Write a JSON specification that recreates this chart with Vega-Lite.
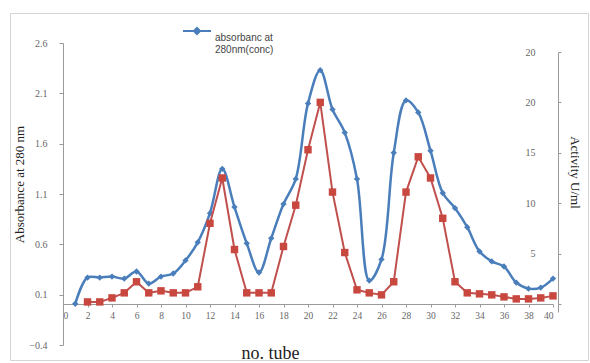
{
  "$schema": "https://vega.github.io/schema/vega-lite/v6.json",
  "width": 578,
  "height": 347,
  "autosize": {"type": "none"},
  "padding": {"left": 10, "top": 13, "right": 2, "bottom": 3},
  "background": "white",
  "config": {
    "view": {"stroke": "#d4d4d4", "strokeWidth": 1},
    "axis": {"grid": false, "domainColor": "#9a9a9a", "tickColor": "#9a9a9a", "labelFont": "Liberation Serif", "labelFontSize": 10, "labelColor": "#666666", "titleFont": "Liberation Serif", "titleFontWeight": "normal", "titleColor": "#222222"},
    "axisX": {"labelOverlap": false}
  },
  "data": {"values": [
    {"tube": 1, "abs": 0.01, "act": null},
    {"tube": 2, "abs": 0.27, "act": 0.2},
    {"tube": 3, "abs": 0.27, "act": 0.2},
    {"tube": 4, "abs": 0.28, "act": 0.6},
    {"tube": 5, "abs": 0.26, "act": 1.1},
    {"tube": 6, "abs": 0.33, "act": 2.2},
    {"tube": 7, "abs": 0.21, "act": 1.1},
    {"tube": 8, "abs": 0.28, "act": 1.3},
    {"tube": 9, "abs": 0.31, "act": 1.1},
    {"tube": 10, "abs": 0.44, "act": 1.1},
    {"tube": 11, "abs": 0.62, "act": 1.7},
    {"tube": 12, "abs": 0.91, "act": 8.0},
    {"tube": 13, "abs": 1.35, "act": 12.5},
    {"tube": 14, "abs": 0.97, "act": 5.4},
    {"tube": 15, "abs": 0.61, "act": 1.1},
    {"tube": 16, "abs": 0.32, "act": 1.1},
    {"tube": 17, "abs": 0.66, "act": 1.1},
    {"tube": 18, "abs": 1.0, "act": 5.7},
    {"tube": 19, "abs": 1.25, "act": 9.8},
    {"tube": 20, "abs": 2.0, "act": 15.3},
    {"tube": 21, "abs": 2.33, "act": 20.0},
    {"tube": 22, "abs": 1.94, "act": 11.1},
    {"tube": 23, "abs": 1.71, "act": 5.1},
    {"tube": 24, "abs": 1.25, "act": 1.4},
    {"tube": 25, "abs": 0.24, "act": 1.1},
    {"tube": 26, "abs": 0.45, "act": 0.9},
    {"tube": 27, "abs": 1.51, "act": 2.2},
    {"tube": 28, "abs": 2.03, "act": 11.1},
    {"tube": 29, "abs": 1.91, "act": 14.6},
    {"tube": 30, "abs": 1.53, "act": 12.5},
    {"tube": 31, "abs": 1.11, "act": 8.5},
    {"tube": 32, "abs": 0.96, "act": 2.2},
    {"tube": 33, "abs": 0.77, "act": 1.1},
    {"tube": 34, "abs": 0.53, "act": 1.0},
    {"tube": 35, "abs": 0.43, "act": 0.9},
    {"tube": 36, "abs": 0.38, "act": 0.7},
    {"tube": 37, "abs": 0.22, "act": 0.5},
    {"tube": 38, "abs": 0.16, "act": 0.5},
    {"tube": 39, "abs": 0.17, "act": 0.6},
    {"tube": 40, "abs": 0.26, "act": 0.8}
  ]},
  "encoding": {
    "x": {"field": "tube", "type": "quantitative", "scale": {"domain": [0, 40], "range": [53, 543], "nice": false, "zero": false},
      "axis": {"orient": "bottom", "offset": -56, "values": [0,2,4,6,8,10,12,14,16,18,20,22,24,26,28,30,32,34,36,38,40], "labelOverlap": false, "labelFontSize": 9.5, "tickSize": 3, "labelPadding": 3, "title": "no. tube", "titleFontSize": 18, "titleX": 260, "titleY": 49, "titleAlign": "center", "titleBaseline": "middle"}}
  },
  "layer": [
    {
      "mark": {"type": "line", "interpolate": "catmull-rom", "strokeWidth": 2.5, "point": {"shape": "diamond", "size": 40, "filled": true}},
      "encoding": {
        "y": {"field": "abs", "type": "quantitative", "scale": {"domain": [-0.4, 2.6], "range": [332, 30], "nice": false, "zero": false},
          "axis": {"orient": "left", "offset": -53, "values": [-0.4, 0.1, 0.6, 1.1, 1.6, 2.1, 2.6], "format": ".1f", "tickSize": 4, "labelPadding": 12, "title": "Absorbance at 280 nm", "titleFontSize": 13, "titleAngle": -90, "titleX": -44, "titleY": 171, "titleAlign": "center", "titleBaseline": "middle"}},
        "color": {"datum": "absorbanc at 280nm(conc)", "type": "nominal",
          "scale": {"domain": ["absorbanc at 280nm(conc)"], "range": ["#4a7ebb"]},
          "legend": {"orient": "none", "legendX": 172, "legendY": 10, "title": null, "padding": 0,
            "symbolType": "M-1,-0.5L1,-0.5M-0.22,-0.5L0,-0.72L0.22,-0.5L0,-0.28Z", "symbolSize": 784, "symbolStrokeWidth": 2,
            "symbolFillColor": "#4a7ebb", "symbolStrokeColor": "#4a7ebb",
            "labelExpr": "['absorbanc at', '280nm(conc)']", "labelFont": "Liberation Sans", "labelFontSize": 10, "labelColor": "#444444", "labelOffset": 3, "labelLimit": 0}}
      }
    },
    {
      "transform": [{"filter": "isValid(datum.act)"}],
      "mark": {"type": "line", "color": "#c0504d", "strokeWidth": 2, "point": {"shape": "square", "size": 55, "filled": true, "color": "#c8473f"}},
      "encoding": {
        "y": {"field": "act", "type": "quantitative", "scale": {"domain": [-0.8, 25], "range": [299, 39], "nice": false, "zero": false},
          "axis": {"orient": "right", "offset": -30, "values": [0, 5, 10, 15, 20, 25], "labelExpr": "datum.value == 25 ? '20' : (datum.value == 0 ? '' : datum.label)", "tickSize": 3, "labelPadding": -26, "labelAlign": "right", "title": "Activity U/ml", "titleFontSize": 13, "titleAngle": 90, "titleX": 16, "titleY": 159, "titleAlign": "center", "titleBaseline": "middle"}}
      }
    }
  ],
  "resolve": {"scale": {"y": "independent"}}
}
